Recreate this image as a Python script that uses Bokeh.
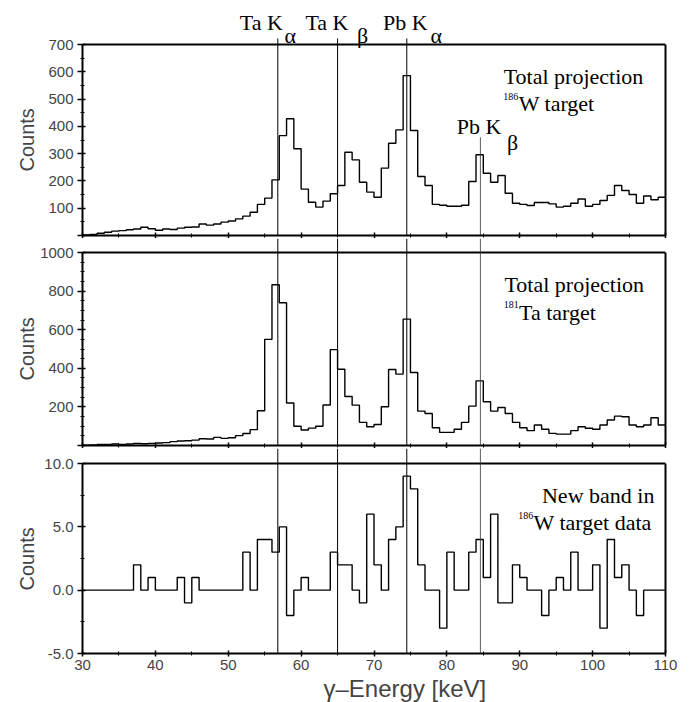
from bokeh.plotting import figure
from bokeh.layouts import column
from bokeh.models import (Range1d, LinearAxis, SingleIntervalTicker, FixedTicker,
                          NumeralTickFormatter, CustomJSTickFormatter, Span, Title)
from bokeh.core.properties import value
from bokeh.embed import file_html
from bokeh.resources import INLINE

# ---------------- data ----------------
bin_lo_keV = list(range(30, 110))          # lower edges of the 1 keV bins
bin_width_keV = 1

w186_total = [2, 4, 8, 12, 16, 18, 21, 24, 30, 25,
              19, 24, 22, 27, 30, 31, 42, 38, 42, 49,
              53, 61, 71, 85, 114, 137, 204, 366, 428, 318,
              170, 122, 104, 126, 153, 183, 305, 277, 195, 159,
              140, 247, 338, 387, 586, 385, 216, 183, 114, 111,
              107, 107, 111, 198, 296, 228, 195, 220, 155, 118,
              114, 110, 121, 121, 116, 104, 107, 118, 134, 107,
              114, 128, 147, 183, 165, 150, 118, 145, 131, 140]

ta181_total = [2, 3, 5, 5, 8, 6, 8, 10, 9, 11,
               13, 15, 20, 23, 25, 28, 35, 34, 42, 37,
               40, 51, 62, 82, 180, 550, 833, 740, 220, 100,
               80, 90, 100, 210, 497, 395, 254, 209, 120, 97,
               109, 201, 394, 370, 655, 378, 178, 166, 92, 68,
               68, 84, 120, 204, 335, 227, 178, 197, 166, 120,
               92, 77, 106, 84, 63, 59, 59, 77, 97, 89,
               84, 106, 132, 152, 149, 106, 97, 106, 144, 106]

w186_band = [0, 0, 0, 0, 0, 0, 0, 2, 0, 1,
             0, 0, 0, 1, -1, 1, 0, 0, 0, 0,
             0, 0, 3, 0, 4, 4, 3, 5, -2, 0,
             1, 0, 0, 0, 3, 2, 2, 0, -1, 6,
             2, 0, 4, 5, 9, 8, 2, 0, 0, -3,
             3, 0, 0, 3, 4, 1, 6, -1, -1, 2,
             1, 0, 0, -2, 0, 1, 0, 3, 0, 0,
             2, -3, 4, 1, 2, 0, -2, 0, 0, 0]

xray_names = ["Ta Kα", "Ta Kβ", "Pb Kα", "Pb Kβ"]
xray_keV = [56.8, 65.0, 74.5, 84.6]
pb_kb_line_top = 360          # Pb Kβ marker ends under its label (counts, top panel)

x_ticks_major = 10
# ------------------------------------------------------------------------

SANS = "Liberation Sans"
SERIF = "Liberation Serif"
LB, RB = 82, 20
FRAME_W = 583
W = LB + FRAME_W + RB


def edges_of(vals):
    xs = bin_lo_keV + [bin_lo_keV[-1] + bin_width_keV]
    ys = list(vals) + [vals[-1]]
    return xs, ys


def base_fig(height, y0, y1, bottom):
    p = figure(width=W, height=height, x_range=Range1d(30, 110), y_range=Range1d(y0, y1),
               output_backend="svg", toolbar_location=None,
               min_border_left=LB, min_border_right=RB, min_border_top=0,
               min_border_bottom=bottom, x_axis_type=None, y_axis_type=None)
    p.outline_line_color = None
    p.background_fill_color = "white"
    p.border_fill_color = "white"
    return p


def add_y_axis(p, lo, hi, interval, nminor, title_standoff, title_offset,
               fmt=None, hide_zero=True):
    ax = LinearAxis(ticker=SingleIntervalTicker(interval=interval, num_minor_ticks=nminor),
                    bounds=(lo, hi))
    if fmt:
        ax.formatter = NumeralTickFormatter(format=fmt)
    if hide_zero:
        ax.formatter = CustomJSTickFormatter(code="return tick == 0 ? '' : String(tick)")
    ax.major_label_text_font = SANS
    ax.major_label_text_font_size = "15px"
    ax.major_label_standoff = 4
    ax.major_tick_out = 5
    ax.major_tick_in = 3
    ax.minor_tick_out = 2
    ax.minor_tick_in = 2
    ax.axis_line_width = 2
    ax.major_tick_line_width = 1.5
    p.add_layout(ax, "left")
    p.add_layout(Title(text="Counts", align="left", offset=title_offset,
                       standoff=title_standoff, text_font=SANS, text_font_size="20px",
                       text_font_style="normal"), "left")
    rx = LinearAxis(ticker=FixedTicker(ticks=[]), bounds=(lo, hi),
                    major_label_text_font_size="0px", major_label_standoff=0,
                    major_tick_out=0, major_tick_in=0, minor_tick_out=0, minor_tick_in=0,
                    axis_line_width=2)
    p.add_layout(rx, "right")
    p.add_layout(Span(location=hi, dimension="width", line_color="black", line_width=2))


def add_x_axis(p, labels):
    ax = LinearAxis(ticker=SingleIntervalTicker(interval=x_ticks_major, num_minor_ticks=2))
    ax.axis_line_width = 2
    ax.major_tick_in = 3
    ax.major_tick_out = 3
    ax.minor_tick_in = 2
    ax.minor_tick_out = 2
    ax.major_tick_line_width = 1.5
    if labels:
        ax.major_label_text_font = SANS
        ax.major_label_text_font_size = "15px"
        ax.major_label_standoff = 3
    else:
        ax.formatter = CustomJSTickFormatter(code="return ''")
        ax.major_label_text_font_size = "0px"
        ax.major_label_standoff = 0
    p.add_layout(ax, "below")


def serif_text(p, x, y, t, size="22px", align="left"):
    p.text(x=[x], y=[y], text=[t], text_font=value(SERIF), text_font_size=size,
           text_align=align, text_baseline="alphabetic", text_color="black")


def marker_spans(p):
    for k, e in enumerate(xray_keV):
        p.add_layout(Span(location=e, dimension="height",
                          line_color="black" if k < 3 else "#333333",
                          line_width=1 if k < 3 else 0.8))


# ---------------- panel 1: 186W total projection (with header) ----------------
s1 = 191 / 700.0                     # px per count
p1 = base_fig(238, 0, 235 / s1, 3)
add_y_axis(p1, 0, 700, 100, 2, 16, 64)
add_x_axis(p1, False)
xs, ys = edges_of(w186_total)
p1.step(x=xs, y=ys, mode="after", line_color="black", line_width=1.4)
p1.segment(x0=xray_keV[:3], y0=[0] * 3, x1=xray_keV[:3], y1=[722] * 3,
           line_color="black", line_width=1)
p1.segment(x0=[xray_keV[3]], y0=[0], x1=[xray_keV[3]], y1=[pb_kb_line_top],
           line_color="#333333", line_width=0.8)
# header labels of the X-ray lines
serif_text(p1, 51.58, 781, "Ta K")
serif_text(p1, 57.71, 733, "α")
serif_text(p1, 60.59, 781, "Ta K")
serif_text(p1, 67.68, 733, "β")
serif_text(p1, 71.25, 781, "Pb K")
serif_text(p1, 77.74, 733, "α")
serif_text(p1, 81.37, 399, "Pb K")
serif_text(p1, 88.26, 341, "β")
serif_text(p1, 87.8, 583, "Total projection")
serif_text(p1, 87.75, 509, "186", size="10px")
serif_text(p1, 89.85, 483, "W target")

# ---------------- panel 2: 181Ta total projection ----------------
s2 = 193 / 1000.0
p2 = base_fig(210, 0, 207 / s2, 3)
add_y_axis(p2, 0, 1000, 200, 4, 0, 65)
add_x_axis(p2, False)
xs, ys = edges_of(ta181_total)
p2.step(x=xs, y=ys, mode="after", line_color="black", line_width=1.4)
marker_spans(p2)
serif_text(p2, 87.9, 833, "Total projection")
serif_text(p2, 87.8, 728, "181", size="10px")
serif_text(p2, 89.9, 691, "Ta target")

# ---------------- panel 3: new band ----------------
s3 = 190 / 15.0
p3 = base_fig(254, -5, -5 + 205 / s3, 49)
add_y_axis(p3, -5, 10, 5, 2, 8, 63, fmt="0.0", hide_zero=False)
add_x_axis(p3, True)
xs, ys = edges_of(w186_band)
p3.step(x=xs, y=ys, mode="after", line_color="black", line_width=1.4)
marker_spans(p3)
serif_text(p3, 93.05, 7.51, "New band in")
serif_text(p3, 89.8, 5.88, "186", size="10px")
serif_text(p3, 91.9, 5.31, "W target data")
p3.add_layout(Title(text="γ–Energy [keV]", align="left", offset=241, standoff=0,
                    text_font=SANS, text_font_size="24px", text_font_style="normal"), "below")

layout = column(p1, p2, p3, spacing=0)
open("out.html", "w").write(file_html(layout, INLINE))
